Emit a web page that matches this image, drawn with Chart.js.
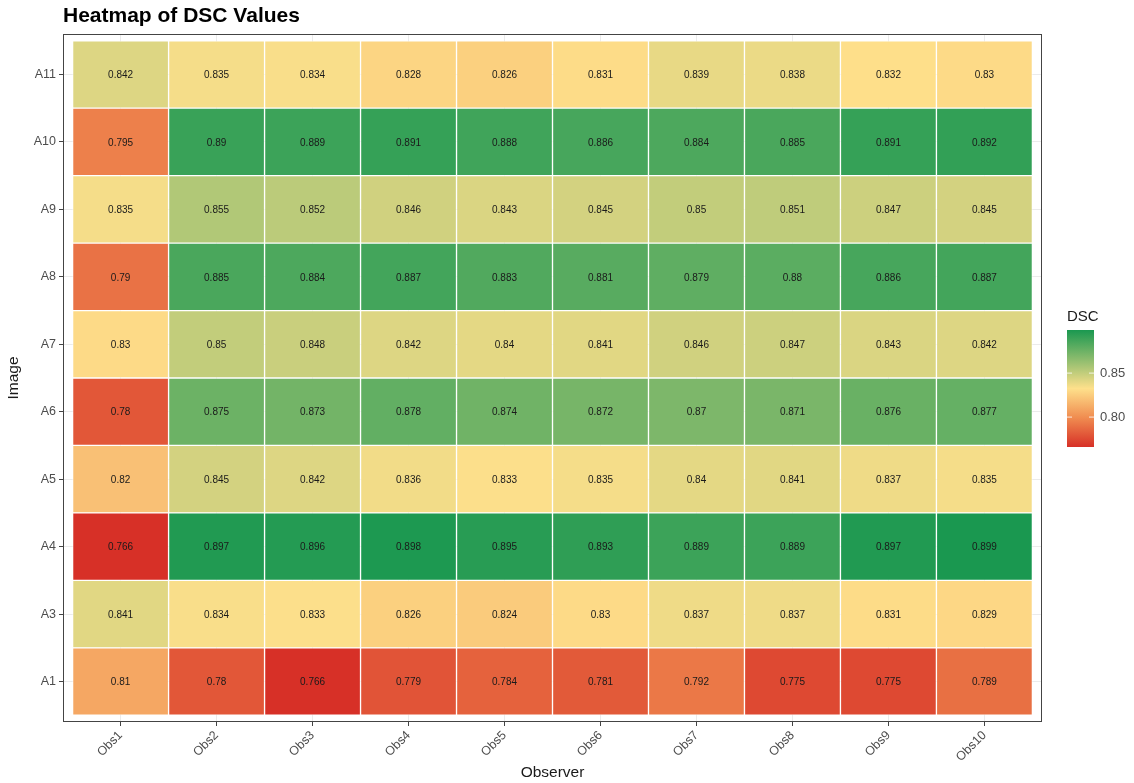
<!DOCTYPE html>
<html>
<head>
<meta charset="utf-8">
<script src="https://cdn.jsdelivr.net/npm/chart.js@4.4.0/dist/chart.umd.min.js"></script>
<style>
  html, body { margin: 0; padding: 0; background: #fff; }
</style>
</head>
<body>
<canvas id="heat" width="1134" height="783"></canvas>
<script>
// observers on x, images on y (bottom to top)
const observers = ['Obs1','Obs2','Obs3','Obs4','Obs5','Obs6','Obs7','Obs8','Obs9','Obs10'];
const images = ['A1','A3','A4','A5','A6','A7','A8','A9','A10','A11'];

const dscA1  = [0.81, 0.78, 0.766, 0.779, 0.784, 0.781, 0.792, 0.775, 0.775, 0.789];
const dscA3  = [0.841, 0.834, 0.833, 0.826, 0.824, 0.83, 0.837, 0.837, 0.831, 0.829];
const dscA4  = [0.766, 0.897, 0.896, 0.898, 0.895, 0.893, 0.889, 0.889, 0.897, 0.899];
const dscA5  = [0.82, 0.845, 0.842, 0.836, 0.833, 0.835, 0.84, 0.841, 0.837, 0.835];
const dscA6  = [0.78, 0.875, 0.873, 0.878, 0.874, 0.872, 0.87, 0.871, 0.876, 0.877];
const dscA7  = [0.83, 0.85, 0.848, 0.842, 0.84, 0.841, 0.846, 0.847, 0.843, 0.842];
const dscA8  = [0.79, 0.885, 0.884, 0.887, 0.883, 0.881, 0.879, 0.88, 0.886, 0.887];
const dscA9  = [0.835, 0.855, 0.852, 0.846, 0.843, 0.845, 0.85, 0.851, 0.847, 0.845];
const dscA10 = [0.795, 0.89, 0.889, 0.891, 0.888, 0.886, 0.884, 0.885, 0.891, 0.892];
const dscA11 = [0.842, 0.835, 0.834, 0.828, 0.826, 0.831, 0.839, 0.838, 0.832, 0.83];
const dscRows = [dscA1, dscA3, dscA4, dscA5, dscA6, dscA7, dscA8, dscA9, dscA10, dscA11];

const legendTicks = [0.80, 0.85];

// colour scale (low red -> orange -> yellow -> green)
const lowCol = [215, 48, 39], lowMidCol = [240, 140, 80], midCol = [254, 224, 139], highCol = [26, 152, 80];
const allVals = dscRows.flat();
const vMin = Math.min(...allVals), vMax = Math.max(...allVals);

function mix(a, b, t) {
    return a.map((x, i) => Math.round(x + (b[i] - x) * t));
}

function fillFor(v) {
    const t = (v - vMin) / (vMax - vMin);
    let c;
    if (t < 0.25) c = mix(lowCol, lowMidCol, t * 4);
    else if (t < 0.5) c = mix(lowMidCol, midCol, (t - 0.25) * 4);
    else c = mix(midCol, highCol, (t - 0.5) * 2);
    return 'rgb(' + c.join(',') + ')';
}

const datasets = dscRows.map(function(row, i) {
    return {
        label: images[i],
        dsc: row,
        data: row.map((v, j) => ({ x: j + 1, y: [i + 0.5, i + 1.5] })),
        backgroundColor: row.map(fillFor),
        borderColor: 'rgba(255,255,255,0.55)',
        borderWidth: 1,
        borderSkipped: false,
        grouped: false,
        barPercentage: 1,
        categoryPercentage: 1
    };
});

const FONT = '"Liberation Sans", Arial, sans-serif';

const extras = {
    id: 'extras',
    afterDatasetsDraw(chart) {
        const ctx = chart.ctx;
        ctx.save();
        ctx.font = '10px ' + FONT;
        ctx.fillStyle = '#1a1a1a';
        ctx.textAlign = 'center';
        ctx.textBaseline = 'middle';
        chart.data.datasets.forEach(function(ds, i) {
            chart.getDatasetMeta(i).data.forEach(function(bar, j) {
                const p = bar.getCenterPoint();
                ctx.fillText(String(ds.dsc[j]), p.x, p.y + 1);
            });
        });
        ctx.restore();
    },
    afterDraw(chart) {
        const ctx = chart.ctx;
        const a = chart.chartArea;
        ctx.save();
        // panel border
        ctx.strokeStyle = '#444444';
        ctx.lineWidth = 1;
        ctx.strokeRect(a.left + 0.5, a.top + 0.5, a.right - a.left - 1, a.bottom - a.top - 1);

        // title
        ctx.fillStyle = '#000';
        ctx.font = 'bold 21px ' + FONT;
        ctx.textAlign = 'left';
        ctx.textBaseline = 'middle';
        ctx.fillText('Heatmap of DSC Values', a.left, 16);

        // colour bar legend
        const bx = a.right + 25, bw = 27, top = 330, bottom = 447;
        ctx.font = '15px ' + FONT;
        ctx.fillStyle = '#1a1a1a';
        ctx.textBaseline = 'alphabetic';
        ctx.fillText('DSC', bx, 321);
        const g = ctx.createLinearGradient(0, bottom, 0, top);
        g.addColorStop(0, 'rgb(' + lowCol.join(',') + ')');
        g.addColorStop(0.25, 'rgb(' + lowMidCol.join(',') + ')');
        g.addColorStop(0.5, 'rgb(' + midCol.join(',') + ')');
        g.addColorStop(1, 'rgb(' + highCol.join(',') + ')');
        ctx.fillStyle = g;
        ctx.fillRect(bx, top, bw, bottom - top);
        ctx.font = '13px ' + FONT;
        ctx.textBaseline = 'middle';
        legendTicks.forEach(function(v) {
            const y = bottom - (v - vMin) / (vMax - vMin) * (bottom - top);
            ctx.strokeStyle = 'rgba(255,255,255,0.8)';
            ctx.beginPath();
            ctx.moveTo(bx, y); ctx.lineTo(bx + 5, y);
            ctx.moveTo(bx + bw - 5, y); ctx.lineTo(bx + bw, y);
            ctx.stroke();
            ctx.fillStyle = '#4d4d4d';
            ctx.fillText(v.toFixed(2), bx + bw + 6, y);
        });
        ctx.restore();
    }
};

new Chart(document.getElementById('heat').getContext('2d'), {
    type: 'bar',
    data: { datasets: datasets },
    plugins: [extras],
    options: {
        responsive: false,
        animation: false,
        layout: { padding: { left: 4, right: 92, top: 34, bottom: 1 } },
        plugins: {
            legend: { display: false },
            tooltip: { enabled: false }
        },
        scales: {
            x: {
                type: 'linear',
                offset: false,
                min: 0.4,
                max: 10.6,
                afterBuildTicks: function(axis) {
                    axis.ticks = observers.map((o, i) => ({ value: i + 1 }));
                },
                afterFit: function(axis) { axis.height = 60; },
                ticks: {
                    autoSkip: false,
                    maxRotation: 45,
                    minRotation: 45,
                    color: '#4d4d4d',
                    font: { family: FONT, size: 12.5 },
                    padding: 2,
                    callback: function(value) { return observers[value - 1]; }
                },
                grid: { offset: false, color: '#ebebeb', tickColor: '#444444', tickLength: 4 },
                border: { display: false },
                title: {
                    display: true,
                    text: 'Observer',
                    color: '#1a1a1a',
                    font: { family: FONT, size: 15.5 },
                    padding: { top: 0, bottom: 0 }
                }
            },
            y: {
                type: 'linear',
                offset: false,
                min: 0.4,
                max: 10.6,
                afterBuildTicks: function(axis) {
                    axis.ticks = images.map((im, i) => ({ value: i + 1 }));
                },
                afterFit: function(axis) { axis.width = 59; },
                ticks: {
                    color: '#4d4d4d',
                    font: { family: FONT, size: 12.5 },
                    padding: 3,
                    callback: function(value) { return images[value - 1]; }
                },
                grid: { offset: false, color: '#ebebeb', tickColor: '#444444', tickLength: 4 },
                border: { display: false },
                title: {
                    display: true,
                    text: 'Image',
                    color: '#1a1a1a',
                    font: { family: FONT, size: 15.5 },
                    padding: { top: 0, bottom: 4 }
                }
            }
        }
    }
});
</script>
</body>
</html>
